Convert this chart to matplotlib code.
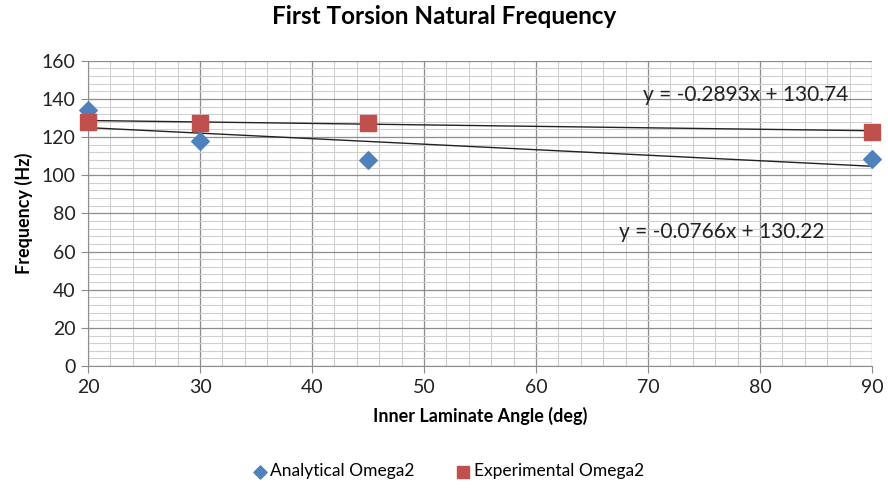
import numpy as np
import matplotlib.pyplot as plt
from matplotlib.ticker import MultipleLocator

plt.rcParams["font.family"] = ["Lato", "DejaVu Sans"]

angle = [20, 30, 45, 90]
analytical = [134.2, 118.0, 107.8, 108.5]
experimental = [128.0, 127.5, 127.5, 122.5]

# trendline coefficients (slope, intercept)
fit_analytical = (-0.2893, 130.74)
fit_experimental = (-0.0766, 130.22)

BLUE = "#4F81BD"
RED = "#C0504D"

fig = plt.figure(figsize=(8.88, 4.9), dpi=100)
ax = fig.add_axes([0.0991, 0.253, 0.883, 0.623])

ax.set_xlim(20, 90)
ax.set_ylim(0, 160)
ax.xaxis.set_major_locator(MultipleLocator(10))
ax.xaxis.set_minor_locator(MultipleLocator(2))
ax.yaxis.set_major_locator(MultipleLocator(20))
ax.yaxis.set_minor_locator(MultipleLocator(4))
ax.grid(which="major", color="#8c8c8c", linewidth=0.9)
ax.grid(which="minor", color="#cfcfcf", linewidth=0.8)
ax.set_axisbelow(True)
for side in ["top", "right"]:
    ax.spines[side].set_visible(False)
for side in ["left", "bottom"]:
    ax.spines[side].set_color("#8c8c8c")
ax.tick_params(which="major", length=5, color="#8c8c8c", labelsize=14,
               labelcolor="#222222", pad=4)
ax.tick_params(which="minor", length=0)

xs = np.array([20, 90])
for m, b in [fit_analytical, fit_experimental]:
    ax.plot(xs, m * xs + b, color="#222222", linewidth=1.0, zorder=3)

ax.scatter(angle, analytical, marker="D", s=80, color=BLUE, zorder=4,
           clip_on=False, label="Analytical Omega2")
ax.scatter(angle, experimental, marker="s", s=125, color=RED, zorder=4,
           clip_on=False, label="Experimental Omega2")

ax.text(78.7, 142.2, f"y = {fit_analytical[0]}x + {fit_analytical[1]}",
        ha="center", va="center", fontsize=15, color="#222222")
ax.text(76.6, 70.3, f"y = {fit_experimental[0]}x + {fit_experimental[1]}",
        ha="center", va="center", fontsize=15, color="#222222")

ax.set_xlabel("Inner Laminate Angle (deg)", fontsize=13, fontweight="bold",
              labelpad=8)
ax.set_ylabel("Frequency (Hz)", fontsize=13, fontweight="bold", labelpad=6)
fig.suptitle("First Torsion Natural Frequency", fontsize=17.5,
             fontweight="bold", x=0.5, y=0.99)

leg = fig.legend(loc="center", bbox_to_anchor=(0.503, 0.038), ncol=2,
                 frameon=False, fontsize=12.5, handletextpad=0.0,
                 handlelength=1.2, columnspacing=2.2, markerscale=0.75)

fig.savefig("out.png", dpi=100)
